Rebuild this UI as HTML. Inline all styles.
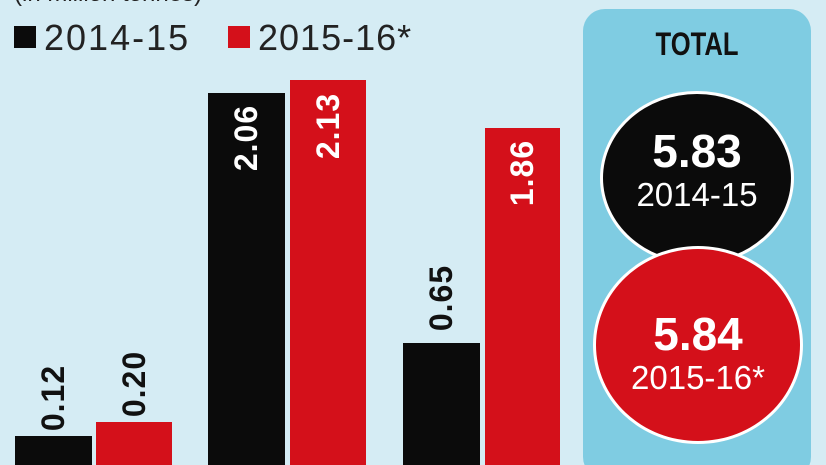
<!DOCTYPE html>
<html><head><style>
html,body{margin:0;width:826px;height:465px;overflow:hidden}
body{background:#d5ecf4;font-family:"Liberation Sans",sans-serif;position:relative}
.a{position:absolute}
.bar{position:absolute;bottom:0}
.k{background:#0b0b0b}.r{background:#d4101a}
.lab{position:absolute;font-size:32px;font-weight:bold;transform:rotate(-90deg);transform-origin:center;white-space:nowrap;width:90px;text-align:center;height:36px;line-height:36px;letter-spacing:1px}
</style></head><body>
<div class="a" style="left:14px;top:-20px;font-size:24px;color:#222">(in million tonnes)</div>
<div class="a k" style="left:14px;top:26px;width:22px;height:22px"></div>
<div class="a" style="left:44px;top:17px;font-size:36px;color:#222;letter-spacing:2px">2014-15</div>
<div class="a r" style="left:228px;top:26px;width:22px;height:22px"></div>
<div class="a" style="left:258px;top:17px;font-size:36px;color:#222;letter-spacing:1px">2015-16*</div>

<div class="bar k" style="left:15px;width:77px;height:29px"></div>
<div class="bar r" style="left:96px;width:76px;height:43px"></div>
<div class="bar k" style="left:208px;width:77px;height:372px"></div>
<div class="bar r" style="left:290px;width:76px;height:385px"></div>
<div class="bar k" style="left:403px;width:77px;height:122px"></div>
<div class="bar r" style="left:485px;width:75px;height:337px"></div>

<div class="lab" style="left:8px;top:380px;color:#111">0.12</div>
<div class="lab" style="left:89px;top:366px;color:#111">0.20</div>
<div class="lab" style="left:201px;top:120px;color:#fff">2.06</div>
<div class="lab" style="left:283px;top:108px;color:#fff">2.13</div>
<div class="lab" style="left:396px;top:280px;color:#111">0.65</div>
<div class="lab" style="left:477px;top:155px;color:#fff">1.86</div>

<div class="a" style="left:583px;top:9px;width:228px;height:470px;background:#7fcce2;border-radius:22px"></div>
<div class="a" style="left:583px;top:26px;width:228px;text-align:center;font-size:32px;font-weight:bold;color:#111;transform:scaleX(0.8)">TOTAL</div>
<div class="a" style="left:600px;top:91px;width:188px;height:168px;border-radius:50%;background:#0b0b0b;border:3px solid #fff;color:#fff;text-align:center">
<div style="font-size:46px;font-weight:bold;margin-top:32px;line-height:50px">5.83</div>
<div style="font-size:33px;line-height:38px">2014-15</div></div>
<div class="a" style="left:593px;top:246px;width:204px;height:192px;border-radius:50%;background:#d4101a;border:3px solid #fff;color:#fff;text-align:center">
<div style="font-size:46px;font-weight:bold;margin-top:60px;line-height:50px">5.84</div>
<div style="font-size:33px;line-height:38px">2015-16*</div></div>
</body></html>
